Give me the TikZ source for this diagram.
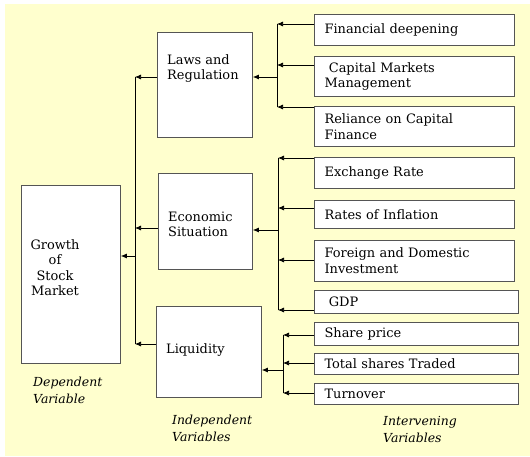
\documentclass[tikz,border=0pt]{standalone}
\usepackage{fontspec}
\setmainfont{DejaVu Serif}
\usetikzlibrary{arrows.meta}
\definecolor{paper}{RGB}{255,255,206}
\definecolor{boxline}{RGB}{85,85,85}

\begin{document}
\begin{tikzpicture}[x=1bp,y=-1bp,
  every node/.style={font=\fontsize{13}{16}\selectfont},
  bigbox/.style={draw=boxline,fill=white,line width=0.9pt,anchor=north west,inner sep=0pt},
  varbox/.style={draw=boxline,fill=white,line width=1.1pt,anchor=north west,
                 inner xsep=10bp,inner ysep=0pt,text width=180bp,align=left},
  widebox/.style={varbox,text width=184bp},
  boxtext/.style={anchor=north west,inner sep=0pt,align=left},
  note/.style={font=\fontsize{12.5}{17}\selectfont\itshape,anchor=north west,inner sep=0pt,align=left},
  link/.style={-{Latex[length=6bp,width=5bp]},line width=0.7pt}
]
  \fill[white] (0,0) rectangle (530,457);
  \fill[paper] (5,4) rectangle (530,456);

  \node[bigbox,minimum width=95bp,minimum height=105bp] (laws) at (157,32) {};
  \node[bigbox,minimum width=94bp,minimum height=96bp] (econ) at (158,173) {};
  \node[bigbox,minimum width=99bp,minimum height=178bp] (growth) at (21,185) {};
  \node[bigbox,minimum width=105bp,minimum height=91bp] (liq) at (156,306) {};
  \node[boxtext] (lawstext) at (167,54) {Laws and\\Regulation};
  \node[boxtext,font=\fontsize{13}{15}\selectfont] (econtext) at (168,212) {Economic\\Situation};
  \node[align=center,anchor=north,inner sep=0pt,font=\fontsize{13}{15.6}\selectfont] (growthtext) at (55,239) {Growth\\of\\Stock\\Market};
  \node[boxtext] (liqtext) at (166,343) {Liquidity};

  \node[varbox,minimum height=31bp] (fin) at (314,14) {Financial deepening};
  \node[varbox,minimum height=40bp] (cap) at (314,56) {\ Capital Markets\\Management};
  \node[varbox,minimum height=40bp] (rel) at (314,106) {Reliance on Capital\\Finance};
  \node[varbox,minimum height=31bp] (exch) at (314,157) {Exchange Rate};
  \node[varbox,minimum height=28bp] (infl) at (314,200) {Rates of Inflation};
  \node[varbox,minimum height=41bp] (fdi) at (314,240) {Foreign and Domestic\\Investment};
  \node[widebox,minimum height=23bp] (gdp) at (314,290) {\ GDP};
  \node[widebox,minimum height=23bp] (share) at (314,322) {Share price};
  \node[widebox,minimum height=21bp] (total) at (314,353) {Total shares Traded};
  \node[widebox,minimum height=21bp] (turn) at (314,383) {Turnover};

  \node[note] (dep) at (33,377) {Dependent\\Variable};
  \node[note] (indep) at (172,415) {Independent\\Variables};
  \node[note] (interv) at (383,416) {Intervening\\Variables};

  \coordinate (la) at (135,77);
  \coordinate (le) at (135,228);
  \coordinate (lg) at (135,256);
  \coordinate (ll) at (135,344);
  \draw (la) -- (ll);
  \draw[link] (la -| laws.west) -- (la);
  \draw[link] (le -| econ.west) -- (le);
  \draw[link] (ll -| liq.west) -- (ll);
  \draw[link] (lg) -- (lg -| growth.east);

  \coordinate (fa) at (277,24);
  \coordinate (fb) at (277,65);
  \coordinate (fc) at (277,107);
  \coordinate (fm) at (277,77);
  \draw (fa) -- (fc);
  \draw[link] (fa -| fin.west) -- (fa);
  \draw[link] (fb -| cap.west) -- (fb);
  \draw[link] (fc -| rel.west) -- (fc);
  \draw[link] (fm) -- (fm -| laws.east);

  \coordinate (ea) at (278,158);
  \coordinate (eb) at (278,208);
  \coordinate (ec) at (278,260);
  \coordinate (ed) at (278,310);
  \coordinate (em) at (278,230);
  \draw (ea) -- (ed);
  \draw[link] (ea -| exch.west) -- (ea);
  \draw[link] (eb -| infl.west) -- (eb);
  \draw[link] (ec -| fdi.west) -- (ec);
  \draw[link] (ed -| gdp.west) -- (ed);
  \draw[link] (em) -- (em -| econ.east);

  \coordinate (sa) at (283,335);
  \coordinate (sb) at (283,363);
  \coordinate (sc) at (283,393);
  \coordinate (sm) at (283,370);
  \draw (sa) -- (sc);
  \draw[link] (sa -| share.west) -- (sa);
  \draw[link] (sb -| total.west) -- (sb);
  \draw[link] (sc -| turn.west) -- (sc);
  \draw[link] (sm) -- (sm -| liq.east);
\end{tikzpicture}
\end{document}
